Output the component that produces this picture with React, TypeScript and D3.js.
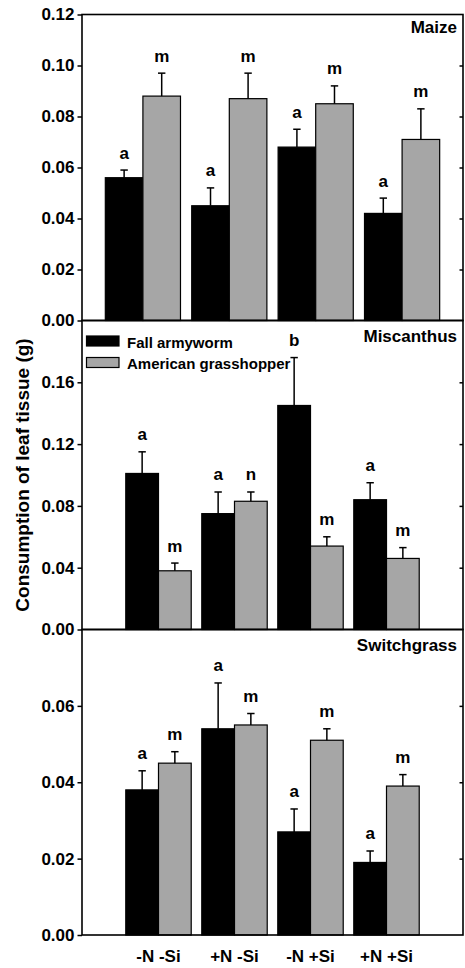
import React, {useEffect, useRef} from 'react';
import * as d3 from 'd3';

// treatments and series
const treatments = ['-N -Si', '+N -Si', '-N +Si', '+N +Si'];
const seriesNames = ['Fall armyworm', 'American grasshopper'];

// Maize
const maizeArmyworm = [0.056, 0.045, 0.068, 0.042];
const maizeArmywormErr = [0.003, 0.007, 0.007, 0.006];
const maizeArmywormLetters = ['a', 'a', 'a', 'a'];
const maizeGrasshopper = [0.088, 0.087, 0.085, 0.071];
const maizeGrasshopperErr = [0.009, 0.010, 0.007, 0.012];
const maizeGrasshopperLetters = ['m', 'm', 'm', 'm'];
const maizeTicks = [0, 0.02, 0.04, 0.06, 0.08, 0.10, 0.12];

// Miscanthus
const miscArmyworm = [0.101, 0.075, 0.145, 0.084];
const miscArmywormErr = [0.014, 0.014, 0.031, 0.011];
const miscArmywormLetters = ['a', 'a', 'b', 'a'];
const miscGrasshopper = [0.038, 0.083, 0.054, 0.046];
const miscGrasshopperErr = [0.005, 0.006, 0.006, 0.007];
const miscGrasshopperLetters = ['m', 'n', 'm', 'm'];
const miscTicks = [0, 0.04, 0.08, 0.12, 0.16];

// Switchgrass
const switchArmyworm = [0.038, 0.054, 0.027, 0.019];
const switchArmywormErr = [0.005, 0.012, 0.006, 0.003];
const switchArmywormLetters = ['a', 'a', 'a', 'a'];
const switchGrasshopper = [0.045, 0.055, 0.051, 0.039];
const switchGrasshopperErr = [0.003, 0.003, 0.003, 0.003];
const switchGrasshopperLetters = ['m', 'm', 'm', 'm'];
const switchTicks = [0, 0.02, 0.04, 0.06];

const FONT = '"Liberation Sans", Arial, sans-serif';
const GRAY = '#a6a6a6';

export default function App() {
  const svgRef = useRef<SVGSVGElement>(null);

  useEffect(() => {
    const width = 465;
    const height = 968;
    const left = 82;
    const right = 463;

    const svg = d3.select(svgRef.current)
      .attr('width', width)
      .attr('height', height)
      .style('background', '#fff')
      .style('font-family', FONT);
    svg.selectAll('*').remove();

    const panels = [
      {
        title: 'Maize', max: 0.12, top: 14.5, bottom: 320.5, titleY: 33,
        ticks: maizeTicks, padIn: 0.13, padOut: 0.27,
        values: [maizeArmyworm, maizeGrasshopper],
        errs: [maizeArmywormErr, maizeGrasshopperErr],
        letters: [maizeArmywormLetters, maizeGrasshopperLetters],
      },
      {
        title: 'Miscanthus', max: 0.2, top: 320.5, bottom: 629.5, titleY: 342,
        ticks: miscTicks, padIn: 0.139, padOut: 0.576,
        values: [miscArmyworm, miscGrasshopper],
        errs: [miscArmywormErr, miscGrasshopperErr],
        letters: [miscArmywormLetters, miscGrasshopperLetters],
      },
      {
        title: 'Switchgrass', max: 0.08, top: 629.5, bottom: 935, titleY: 651,
        ticks: switchTicks, padIn: 0.139, padOut: 0.576,
        values: [switchArmyworm, switchGrasshopper],
        errs: [switchArmywormErr, switchGrasshopperErr],
        letters: [switchArmywormLetters, switchGrasshopperLetters],
      },
    ];

    let lastX: d3.ScaleBand<string> | null = null;

    panels.forEach(p => {
      const y = d3.scaleLinear().domain([0, p.max]).range([p.bottom, p.top]);
      const x0 = d3.scaleBand<string>()
        .domain(treatments)
        .range([left, right])
        .paddingInner(p.padIn)
        .paddingOuter(p.padOut);
      const x1 = d3.scaleBand<number>()
        .domain([0, 1])
        .range([0, x0.bandwidth()]);
      lastX = x0;

      const g = svg.append('g');

      // bars, error bars and letters
      [0, 1].forEach(s => {
        const fill = s === 0 ? '#000' : GRAY;
        treatments.forEach((t, i) => {
          const v = p.values[s][i];
          const e = p.errs[s][i];
          const bx = x0(t)! + x1(s)!;
          const bw = x1.bandwidth();
          const cx = bx + bw / 2;
          g.append('rect')
            .attr('x', bx)
            .attr('y', y(v))
            .attr('width', bw)
            .attr('height', y(0) - y(v))
            .attr('fill', fill)
            .attr('stroke', '#000')
            .attr('stroke-width', 1.2);
          g.append('line')
            .attr('x1', cx).attr('x2', cx)
            .attr('y1', y(v)).attr('y2', y(v + e))
            .attr('stroke', '#000').attr('stroke-width', 1.5);
          g.append('line')
            .attr('x1', cx - 3.7).attr('x2', cx + 3.7)
            .attr('y1', y(v + e)).attr('y2', y(v + e))
            .attr('stroke', '#000').attr('stroke-width', 1.5);
          g.append('text')
            .attr('x', cx)
            .attr('y', y(v + e) - 11.5)
            .attr('text-anchor', 'middle')
            .attr('font-size', 17)
            .attr('font-weight', 'bold')
            .text(p.letters[s][i]);
        });
      });

      // left axis
      const yAxis = d3.axisLeft(y)
        .tickValues(p.ticks)
        .tickSize(4.5)
        .tickPadding(3)
        .tickFormat(d3.format('.2f') as any);
      const ga = g.append('g')
        .attr('transform', `translate(${left},0)`)
        .call(yAxis);
      ga.select('.domain').remove();
      ga.selectAll('line').attr('stroke-width', 1.5);
      ga.selectAll('text')
        .attr('font-size', 17)
        .attr('font-weight', 'bold')
        .attr('font-family', FONT)
        .attr('fill', '#000');

      // right inward ticks
      const yRight = d3.axisLeft(y)
        .tickValues(p.ticks.filter(d => d > 0 && d < p.max))
        .tickSize(3.5)
        .tickFormat(() => '');
      const gr = g.append('g')
        .attr('transform', `translate(${right},0)`)
        .call(yRight);
      gr.select('.domain').remove();
      gr.selectAll('line').attr('stroke-width', 1.5);

      // frame
      g.append('rect')
        .attr('x', left)
        .attr('y', p.top)
        .attr('width', right - left)
        .attr('height', p.bottom - p.top)
        .attr('fill', 'none')
        .attr('stroke', '#000')
        .attr('stroke-width', 1.6);

      // panel title
      g.append('text')
        .attr('x', 457)
        .attr('y', p.titleY)
        .attr('text-anchor', 'end')
        .attr('font-size', 17)
        .attr('font-weight', 'bold')
        .text(p.title);
    });

    // legend (in Miscanthus panel)
    const legend = svg.append('g');
    seriesNames.forEach((name, i) => {
      legend.append('rect')
        .attr('x', 86.5)
        .attr('y', 336 + i * 21.5)
        .attr('width', 32.5)
        .attr('height', 10)
        .attr('fill', i === 0 ? '#000' : GRAY)
        .attr('stroke', '#000')
        .attr('stroke-width', 1.2);
      legend.append('text')
        .attr('x', 127)
        .attr('y', 347.5 + i * 21.5)
        .attr('font-size', 15)
        .attr('font-weight', 'bold')
        .text(name);
    });

    // x labels
    svg.append('g')
      .selectAll('text')
      .data(treatments)
      .join('text')
        .attr('x', d => lastX!(d)! + lastX!.bandwidth() / 2)
        .attr('y', 962)
        .attr('text-anchor', 'middle')
        .attr('font-size', 17)
        .attr('font-weight', 'bold')
        .text(d => d);

    // y axis title
    svg.append('text')
      .attr('transform', 'translate(29,475) rotate(-90)')
      .attr('text-anchor', 'middle')
      .attr('font-size', 19)
      .attr('font-weight', 'bold')
      .text('Consumption of leaf tissue (g)');
  }, []);

  return (
    <svg ref={svgRef} style={{position: 'absolute', left: 0, top: 0}}></svg>
  );
}
